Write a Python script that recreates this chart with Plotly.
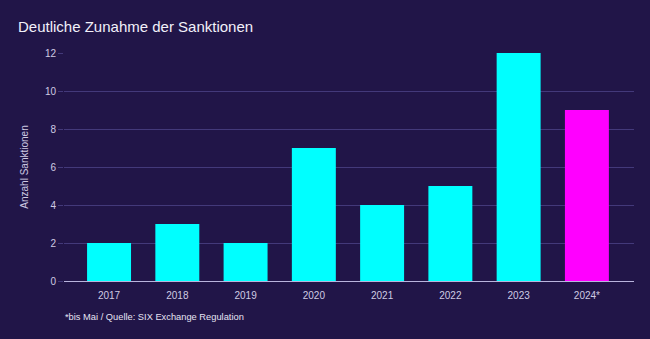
import plotly.graph_objects as go

years = ["2017", "2018", "2019", "2020", "2021", "2022", "2023", "2024*"]
sanctions = [2, 3, 2, 7, 4, 5, 12, 9]
colors = ["#00FFFF"] * 7 + ["#FF00FF"]

bg = "#211548"
fig = go.Figure(go.Bar(x=years, y=sanctions, marker=dict(color=colors, line=dict(width=0))))

fig.update_layout(
    width=650, height=339,
    paper_bgcolor=bg, plot_bgcolor=bg,
    margin=dict(l=64, r=16, t=53, b=58),
    bargap=0.356,
    showlegend=False,
    font=dict(family="Liberation Sans, Arial", color="#cfcbe3", size=10),
    title=dict(text="Deutliche Zunahme der Sanktionen", x=18/650, xanchor="left",
               y=1-27/339, yanchor="middle",
               font=dict(size=15, color="#f2f0fa", family="Liberation Sans, Arial")),
    annotations=[dict(text="*bis Mai / Quelle: SIX Exchange Regulation", xref="paper", yref="paper",
                      x=-1/570, y=-36/228, xanchor="left", yanchor="middle", showarrow=False,
                      font=dict(size=9.3, color="#e6e3f3"))],
)
fig.update_xaxes(range=[-0.66, 7.69], showgrid=False, showline=True, linecolor="#b9b4dd", linewidth=1,
                 ticks="outside", ticklen=5, tickcolor=bg, tickfont=dict(size=10, color="#cfcbe3"))
fig.update_yaxes(range=[0, 12], dtick=2, showgrid=True, gridcolor="#43397a", gridwidth=1,
                 zeroline=False, ticks="outside", ticklen=5, tickcolor="#43397a",
                 title=dict(text="Anzahl Sanktionen", font=dict(size=10, color="#cfcbe3"), standoff=14),
                 tickfont=dict(size=10, color="#cfcbe3"))
fig.write_html("out.html")
